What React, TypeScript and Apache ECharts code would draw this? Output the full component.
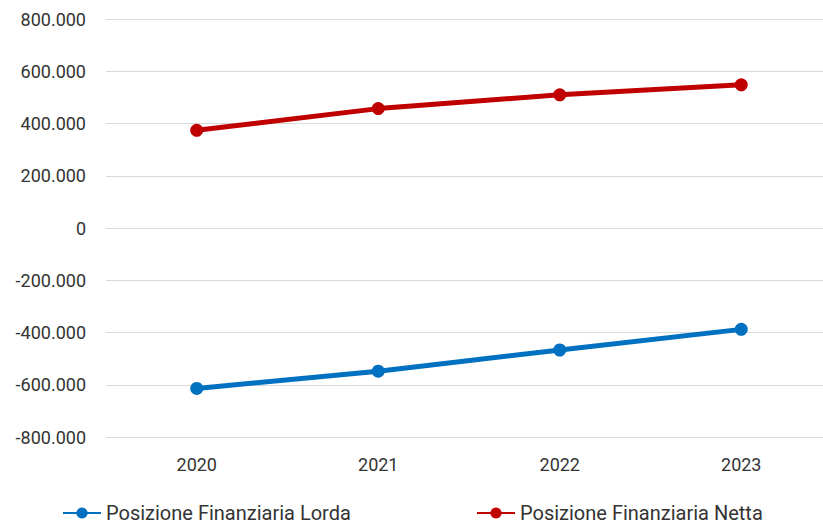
import React, { useEffect, useRef } from "react";
import * as echarts from "echarts";

const years = ["2020", "2021", "2022", "2023"];
const lordaValues = [-614000, -548000, -467000, -388000];
const nettaValues = [374000, 457000, 510000, 548000];
const lordaName = "Posizione Finanziaria Lorda";
const nettaName = "Posizione Finanziaria Netta";

function fmt(v: number): string {
  const neg = v < 0;
  const s = Math.abs(Math.round(v)).toString();
  const out = s.replace(/\B(?=(\d{3})+(?!\d))/g, ".");
  return (neg ? "-" : "") + out;
}

export default function App() {
  const ref = useRef<HTMLDivElement>(null);
  useEffect(() => {
    if (!ref.current) return;
    const chart = echarts.init(ref.current, undefined, { renderer: "svg" });
    const font = "Roboto";
    const legendCommon = {
      orient: "horizontal" as const,
      top: 498,
      itemWidth: 38,
      itemHeight: 14,
      itemGap: 0,
      textStyle: { fontFamily: font, fontSize: 20, color: "#333333" },
    };
    chart.setOption({
      animation: false,
      backgroundColor: "#ffffff",
      grid: { left: 106, right: 0, top: 19, bottom: 90, containLabel: false },
      legend: [
        { ...legendCommon, left: 57, data: [lordaName] },
        { ...legendCommon, left: 471, data: [nettaName] },
      ],
      xAxis: {
        type: "category",
        data: years,
        boundaryGap: true,
        axisLine: { show: false },
        axisTick: { show: false },
        axisLabel: { fontFamily: font, fontSize: 18, color: "#333333", margin: 18 },
      },
      yAxis: {
        type: "value",
        min: -800000,
        max: 800000,
        interval: 200000,
        axisLine: { show: false },
        axisTick: { show: false },
        splitLine: { lineStyle: { color: "#d9d9d9", width: 1 } },
        axisLabel: {
          fontFamily: font,
          fontSize: 18,
          color: "#333333",
          margin: 20,
          formatter: (v: number) => fmt(v),
        },
      },
      series: [
        {
          name: lordaName,
          type: "line",
          data: lordaValues,
          symbol: "circle",
          symbolSize: 13,
          lineStyle: { color: "#0070c0", width: 5 },
          itemStyle: { color: "#0070c0" },
        },
        {
          name: nettaName,
          type: "line",
          data: nettaValues,
          symbol: "circle",
          symbolSize: 13,
          lineStyle: { color: "#c00000", width: 5 },
          itemStyle: { color: "#c00000" },
        },
      ],
    });
    return () => chart.dispose();
  }, []);
  return (
    <div
      style={{
        position: "absolute",
        left: 0,
        top: 0,
        width: 823,
        height: 527,
        overflow: "hidden",
      }}
    >
      <div ref={ref} style={{ width: 832, height: 527 }} />
    </div>
  );
}
